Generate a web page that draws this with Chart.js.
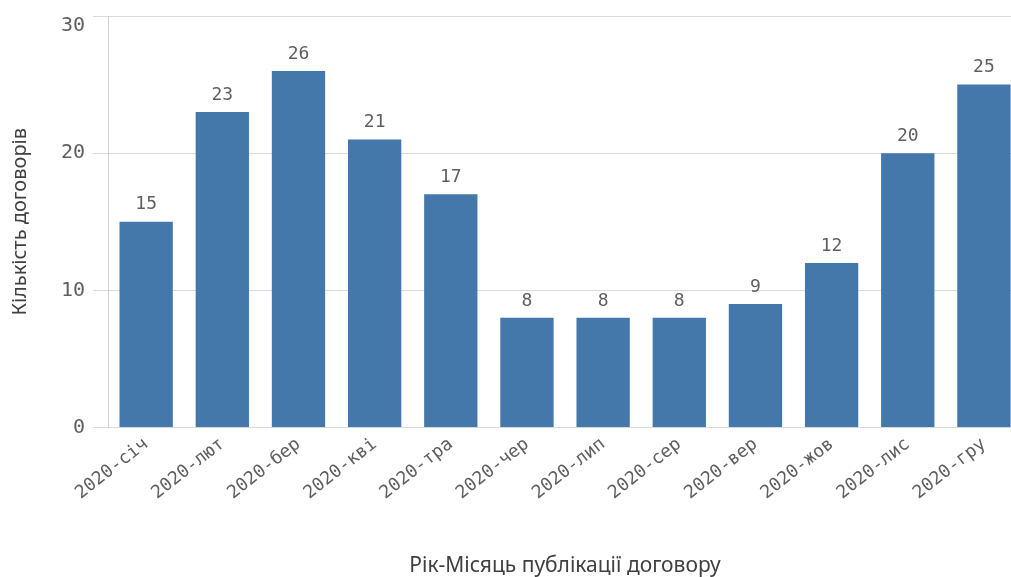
<!DOCTYPE html>
<html lang="uk">
<head>
    <meta charset="UTF-8">
    <title>Кількість договорів</title>
    <style>
        html, body {
            margin: 0;
            padding: 0;
            background: #ffffff;
            overflow: hidden;
        }

        .chart-wrap {
            width: 1022px;
            height: 577px;
            position: relative;
        }
    </style>
    <script src="https://cdn.jsdelivr.net/npm/chart.js"></script>
</head>
<body>
    <div class="chart-wrap">
        <canvas id="contractsChart"></canvas>
    </div>

    <script>
        const months = ['2020-січ', '2020-лют', '2020-бер', '2020-кві', '2020-тра', '2020-чер',
                        '2020-лип', '2020-сер', '2020-вер', '2020-жов', '2020-лис', '2020-гру'];
        const contracts = [15, 23, 26, 21, 17, 8, 8, 8, 9, 12, 20, 25];
        const yTicks = [0, 10, 20, 30];

        const monoFont = "'DejaVu Sans Mono', monospace";
        const sansFont = "'Noto Sans', sans-serif";
        const textGrey = '#5f5f5f';

        // підписи значень над стовпцями + верхня мітка осі Y (трохи нижче лінії, як в оригіналі)
        const valueLabels = {
            id: 'valueLabels',
            afterDatasetsDraw(chart) {
                const ctx = chart.ctx;
                const meta = chart.getDatasetMeta(0);
                ctx.save();
                ctx.font = '18px ' + monoFont;
                ctx.fillStyle = textGrey;
                ctx.textAlign = 'center';
                ctx.textBaseline = 'bottom';
                meta.data.forEach((bar, i) => {
                    ctx.fillText(String(contracts[i]), bar.x, bar.y - 8);
                });

                const y = chart.scales.y;
                const top = yTicks[yTicks.length - 1];
                ctx.font = '20px ' + monoFont;
                ctx.textAlign = 'right';
                ctx.textBaseline = 'middle';
                ctx.fillText(String(top), y.right - 15 - 8, y.getPixelForValue(top) + 10);
                ctx.restore();
            }
        };

        const ctx = document.getElementById('contractsChart').getContext('2d');

        new Chart(ctx, {
            type: 'bar',
            data: {
                labels: months,
                datasets: [{
                    data: contracts,
                    backgroundColor: '#4477aa',
                    borderWidth: 0,
                    barPercentage: 0.7,
                    categoryPercentage: 1.0
                }]
            },
            options: {
                responsive: true,
                maintainAspectRatio: false,
                animation: false,
                layout: {
                    padding: { top: 16, left: 0, right: 0, bottom: 0 }
                },
                plugins: {
                    legend: { display: false },
                    tooltip: { enabled: false }
                },
                scales: {
                    x: {
                        grid: {
                            display: false,
                            drawTicks: false
                        },
                        border: { display: false },
                        ticks: {
                            color: textGrey,
                            font: { family: monoFont, size: 18 },
                            minRotation: 38,
                            maxRotation: 38,
                            padding: 6
                        },
                        title: {
                            display: true,
                            text: 'Рік-Місяць публікації договору',
                            color: '#404040',
                            font: { family: sansFont, size: 21, lineHeight: 1.0 },
                            padding: { top: 46, bottom: 0 }
                        }
                    },
                    y: {
                        min: 0,
                        max: 30,
                        afterBuildTicks(scale) {
                            scale.ticks = yTicks.map(v => ({ value: v }));
                        },
                        grid: {
                            color: '#d9d9d9',
                            lineWidth: 1,
                            tickLength: 15
                        },
                        border: { display: true, color: '#d0d0d0' },
                        ticks: {
                            color: textGrey,
                            font: { family: monoFont, size: 20, lineHeight: 0.7 },
                            padding: 8,
                            callback: v => (v === yTicks[yTicks.length - 1] ? '  ' : String(v))
                        },
                        title: {
                            display: true,
                            text: 'Кількість договорів',
                            color: '#404040',
                            font: { family: sansFont, size: 20 },
                            padding: { top: 8, bottom: 21 }
                        }
                    }
                }
            },
            plugins: [valueLabels]
        });
    </script>
</body>
</html>
